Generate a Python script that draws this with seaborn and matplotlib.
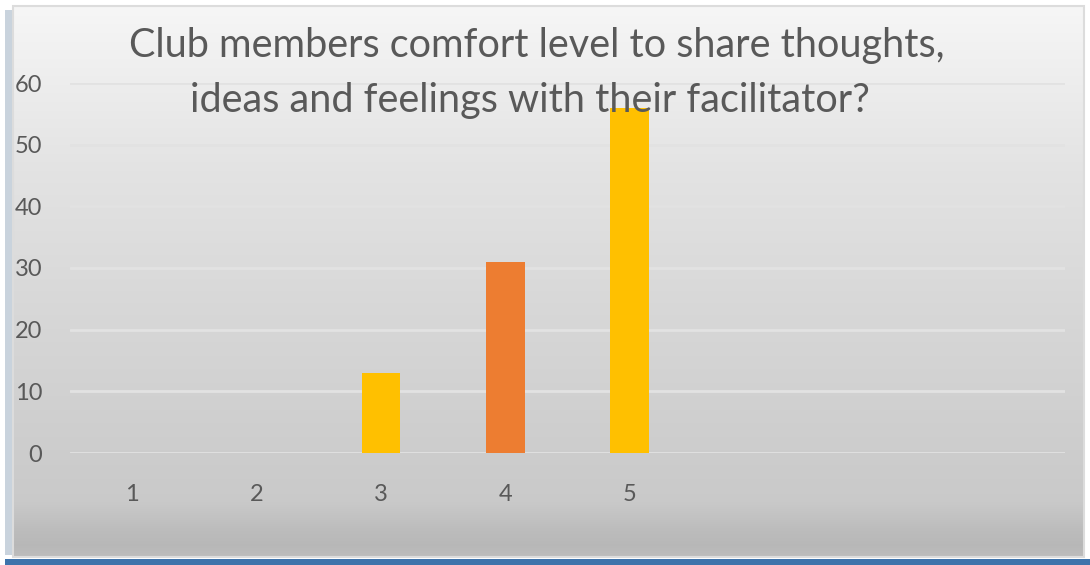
import numpy as np
import pandas as pd
import matplotlib
matplotlib.use("Agg")
import matplotlib.pyplot as plt
from matplotlib.patches import Rectangle
import seaborn as sns

categories = ["1", "2", "3", "4", "5"]
values = [0, 0, 13, 31, 56]
bar_colors = ["#FFC000", "#FFC000", "#FFC000", "#ED7D31", "#FFC000"]
title_lines = ["Club members comfort level to share thoughts,",
               "ideas and feelings with their facilitator?"]
yticks = [0, 10, 20, 30, 40, 50, 60]

sns.set_theme(style="white")
plt.rcParams["font.family"] = ["Lato", "DejaVu Sans"]

W, H = 1090, 565
fig = plt.figure(figsize=(W / 100, H / 100), dpi=100)
fig.patch.set_facecolor("white")

# left shadow
fig.patches.append(Rectangle((5 / W, 1 - 555 / H), 9 / W, (555 - 10) / H,
                             transform=fig.transFigure, facecolor="#c9d3dd",
                             edgecolor="none", zorder=-5))

# background gradient panel
bg = fig.add_axes([13 / W, 1 - 557 / H, (1084 - 13) / W, (557 - 6) / H], zorder=-1)
stops_y = np.array([0.0, 0.3, 0.55, 0.8, 0.9, 0.95, 0.98, 1.0])
stops_v = np.array([0.965, 0.89, 0.845, 0.805, 0.79, 0.74, 0.72, 0.74])
yy = np.linspace(0, 1, 500)
vals = np.interp(yy, stops_y, stops_v)
img = np.repeat(vals[:, None], 2, axis=1)
rgb = np.dstack([img, img, img])
bg.imshow(rgb, aspect="auto", extent=[0, 1, 1, 0], interpolation="bilinear")
bg.set_axis_off()

# frame outline and bottom band
fig.patches.append(Rectangle((13 / W, 1 - 557 / H), (1084 - 13) / W, (557 - 6) / H,
                             transform=fig.transFigure, fill=False,
                             edgecolor="#dcdcdc", lw=1.5, zorder=5))
fig.patches.append(Rectangle((5 / W, 0), (1090 - 5) / W, 6 / H,
                             transform=fig.transFigure, facecolor="#3e73ab",
                             edgecolor="none", zorder=5))

ax = fig.add_axes([70 / W, 1 - 453 / H, (1065 - 70) / W, (453 - 83) / H])
ax.patch.set_alpha(0)
df = pd.DataFrame({"cat": categories, "val": values})
sns.barplot(data=df, x="cat", y="val", hue="cat", palette=bar_colors,
            legend=False, width=0.31, ax=ax, saturation=1, linewidth=0,
            zorder=3)
ax.set_xlim(-0.5, 7.5)
ax.set_ylim(0, 60)
ax.set_yticks(yticks)
ax.set_xlabel("")
ax.set_ylabel("")
ax.yaxis.grid(True, color="#e2e2e2", lw=2, zorder=0)
ax.set_axisbelow(True)
for s in ax.spines.values():
    s.set_visible(False)
ax.tick_params(axis="y", length=0, pad=20, labelsize=17, labelcolor="#595959")
ax.tick_params(axis="x", length=0, pad=22, labelsize=17, labelcolor="#595959")

fig.text(537 / W, 1 - 45 / H, title_lines[0], ha="center", va="center",
         fontsize=28.5, color="#595959")
fig.text(530 / W, 1 - 100 / H, title_lines[1], ha="center", va="center",
         fontsize=28.5, color="#595959")

fig.savefig("out.png", dpi=100)
